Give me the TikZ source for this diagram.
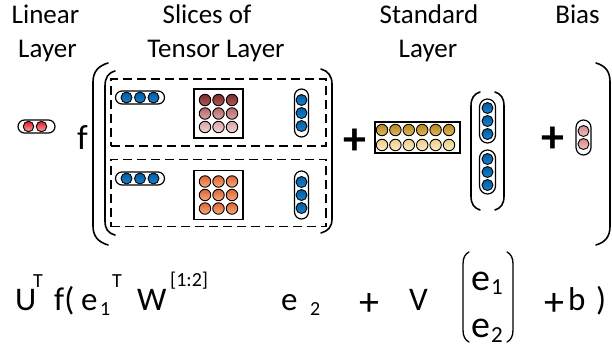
\documentclass[tikz,border=0pt]{standalone}
\usepackage{fontspec}
\setmainfont{Carlito}
\definecolor{blueT}{HTML}{005C9E}
\definecolor{blueB}{HTML}{1A82D2}
\definecolor{redT}{HTML}{E0181F}
\definecolor{redB}{HTML}{F7A8A8}
\definecolor{mA1t}{HTML}{7C2A2A}
\definecolor{mA1b}{HTML}{B25C5C}
\definecolor{mA2t}{HTML}{B46868}
\definecolor{mA2b}{HTML}{DDA2A2}
\definecolor{mA3t}{HTML}{D9A4A4}
\definecolor{mA3b}{HTML}{F3D2D2}
\definecolor{orT}{HTML}{DC6431}
\definecolor{orB}{HTML}{F6AB80}
\definecolor{goT}{HTML}{B4861C}
\definecolor{goB}{HTML}{E2BA5E}
\definecolor{crT}{HTML}{ECCD86}
\definecolor{crB}{HTML}{FCEDC8}
\definecolor{biT}{HTML}{D58686}
\definecolor{biB}{HTML}{F1C3C3}
\begin{document}
\begin{tikzpicture}[x=1pt,y=-1pt,
  lbl/.style={inner sep=0pt, anchor=base, font=\fontsize{27}{32}\selectfont},
  eq/.style={inner sep=0pt, anchor=base west, font=\fontsize{33}{38}\selectfont},
  eqbig/.style={inner sep=0pt, anchor=base west, font=\fontsize{38}{42}\selectfont},
  scr/.style={inner sep=0pt, anchor=base west, font=\fontsize{20}{24}\selectfont},
  scrbig/.style={inner sep=0pt, anchor=base west, font=\fontsize{23}{26}\selectfont},
  plusd/.style={inner sep=0pt, font=\fontsize{46}{46}\selectfont\bfseries},
  pluseq/.style={inner sep=0pt, font=\fontsize{40}{40}\selectfont},
  dot/.style={circle, draw=black, line width=0.9pt, inner sep=0pt, minimum size=11pt},
  mdot/.style={circle, draw=black, line width=0.9pt, inner sep=0pt, minimum size=11.5pt},
  pill/.style={draw=black, line width=1.2pt, inner sep=0pt, fill=white},
  mbox/.style={draw=black, line width=1.2pt, inner sep=0pt, fill=white},
  dbox/.style={draw=black, line width=1.4pt, inner sep=0pt, dash pattern=on 9pt off 5pt},
  paren/.style={line width=1.6pt, line cap=round},
  thinparen/.style={line width=1.3pt, line cap=round}]
\useasboundingbox (0,0) rectangle (612,347);

% column headings
\node[lbl] (hLin1) at (45.5,24) {Linear};
\node[lbl] (hLin2) at (47.5,58) {Layer};
\node[lbl] (hTen1) at (207,24) {Slices of};
\node[lbl] (hTen2) at (216,58) {Tensor Layer};
\node[lbl] (hStd1) at (429,24) {Standard};
\node[lbl] (hStd2) at (428,58) {Layer};
\node[lbl] (hBias) at (577.5,24) {Bias};

% linear layer U^T
\node[pill, rounded corners=6.5pt, minimum width=37pt, minimum height=13pt] (lin) at (36.5,126.5) {};
\foreach \i/\x in {1/28.5,2/41.5}
  \node[dot, minimum size=10.5pt, top color=redT, bottom color=redB] (lin\i) at (\x,126.5) {};

\node[inner sep=0pt, anchor=base west, font=\fontsize{35}{40}\selectfont] (fsym) at (77,150) {f};

% outer brackets of f( ... )
\draw[paren] (108,63) .. controls (98,66) and (93,72) .. (93,82) -- (93,226) .. controls (93,236) and (98,242) .. (108,245);
\draw[paren] (596,63) .. controls (606,66) and (610,72) .. (610,82) -- (610,226) .. controls (610,236) and (606,242) .. (596,245);

% brackets around the tensor slices
\draw[paren] (115,71) .. controls (108,73) and (105,78) .. (105,86) -- (105,221) .. controls (105,229) and (108,233) .. (115,235);
\draw[paren] (321,69) .. controls (328,71) and (332,76) .. (332,84) -- (332,219) .. controls (332,227) and (328,231) .. (321,233);

% tensor slices
\node[dbox, minimum width=215pt, minimum height=67pt] (sliceA) at (218.5,112.5) {};
\node[dbox, minimum width=215pt, minimum height=67pt] (sliceB) at (218.5,193) {};

% slice 1
\node[pill, rounded corners=6.5pt, minimum width=49pt, minimum height=13pt] (aRow) at (140,97.5) {};
\foreach \i/\x in {1/126.5,2/140,3/153.5}
  \node[dot, top color=blueT, bottom color=blueB] (aRow\i) at (\x,97.5) {};
\node[mbox, minimum size=49pt] (aMat) at (218.5,113.5) {};
\foreach \r/\y/\tc/\bc in {1/100/mA1t/mA1b,2/113.5/mA2t/mA2b,3/127/mA3t/mA3b}
  \foreach \c/\x in {1/205,2/218.5,3/232}
    \node[mdot, top color=\tc, bottom color=\bc] (aMat\r\c) at (\x,\y) {};
\node[pill, rounded corners=7pt, minimum width=14pt, minimum height=48pt] (aCol) at (301.5,113) {};
\foreach \i/\y in {1/100,2/113,3/126}
  \node[dot, top color=blueT, bottom color=blueB] (aCol\i) at (301.5,\y) {};

% slice 2
\node[pill, rounded corners=6.5pt, minimum width=49pt, minimum height=13pt] (bRow) at (140,178.5) {};
\foreach \i/\x in {1/126.5,2/140,3/153.5}
  \node[dot, top color=blueT, bottom color=blueB] (bRow\i) at (\x,178.5) {};
\node[mbox, minimum size=49pt] (bMat) at (218.5,195) {};
\foreach \r/\y in {1/181.5,2/195,3/208.5}
  \foreach \c/\x in {1/205,2/218.5,3/232}
    \node[mdot, top color=orT, bottom color=orB] (bMat\r\c) at (\x,\y) {};
\node[pill, rounded corners=7pt, minimum width=14pt, minimum height=48pt] (bCol) at (301.5,195) {};
\foreach \i/\y in {1/182,2/195,3/208}
  \node[dot, top color=blueT, bottom color=blueB] (bCol\i) at (301.5,\y) {};

% standard layer V [e1; e2]
\node[plusd] (plusA) at (355,142) {+};
\node[mbox, minimum width=85pt, minimum height=31pt] (vMat) at (417.5,137.5) {};
\foreach \c in {1,...,6} {
  \node[mdot, top color=goT, bottom color=goB] (vTop\c) at ({382+13.4*(\c-1)},130) {};
  \node[mdot, top color=crT, bottom color=crB] (vBot\c) at ({382+13.4*(\c-1)},145) {};
}
\draw[paren] (480,92) .. controls (474,94) and (471,98) .. (471,106) -- (471,196) .. controls (471,204) and (474,208) .. (480,210);
\draw[paren] (495,92) .. controls (501,94) and (504,98) .. (504,106) -- (504,196) .. controls (504,204) and (501,208) .. (495,210);
\node[pill, rounded corners=8pt, minimum width=16pt, minimum height=44pt] (eA) at (487.5,121) {};
\foreach \i/\y in {1/108,2/121,3/134}
  \node[dot, top color=blueT, bottom color=blueB] (eA\i) at (487.5,\y) {};
\node[pill, rounded corners=8pt, minimum width=16pt, minimum height=44pt] (eB) at (487.5,172) {};
\foreach \i/\y in {1/159,2/172,3/185}
  \node[dot, top color=blueT, bottom color=blueB] (eB\i) at (487.5,\y) {};

% bias
\node[plusd] (plusB) at (553,140) {+};
\node[pill, rounded corners=7.5pt, minimum width=15pt, minimum height=35pt] (bias) at (583.5,137.5) {};
\foreach \i/\y in {1/131,2/144}
  \node[dot, top color=biT, bottom color=biB] (bias\i) at (583.5,\y) {};

% formula
\node[eq]  (fU)   at (15,310) {U};
\node[scr] (fUT)  at (33,287) {T};
\node[eq]  (fF)   at (54,310) {f(};
\node[eq]  (fE1)  at (81,310) {e};
\node[scr] (fE1s) at (100,315) {1};
\node[scr] (fE1T) at (112,287) {T};
\node[eq]  (fW)   at (137,310) {W};
\node[scr] (fWs)  at (170,286) {[1:2]};
\node[eq]  (fE2)  at (281,310) {e};
\node[scr] (fE2s) at (310,315) {2};
\node[pluseq] (fP1) at (369,305) {+};
\node[eq]  (fV)   at (409,310) {V};
\draw[thinparen] (469,252) .. controls (465,254) and (463,258) .. (463,264) -- (463,330) .. controls (463,336) and (465,340) .. (469,342);
\draw[thinparen] (507,252) .. controls (511,254) and (513,258) .. (513,264) -- (513,330) .. controls (513,336) and (511,340) .. (507,342);
\node[eqbig]  (cE1)  at (471,290) {e};
\node[scrbig] (cE1s) at (491,294) {1};
\node[eqbig]  (cE2)  at (471,337) {e};
\node[scrbig] (cE2s) at (491,342) {2};
\node[pluseq] (fP2) at (554,305) {+};
\node[eq]  (fB)   at (568,310) {b};
\node[eq]  (fR)   at (596,310) {)};
\end{tikzpicture}
\end{document}
